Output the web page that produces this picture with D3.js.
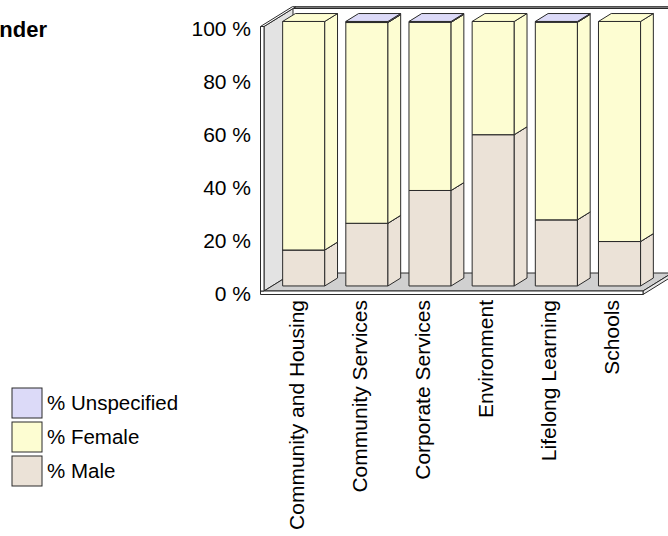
<!DOCTYPE html>
<html>
<head>
<meta charset="utf-8">
<script src="https://cdn.jsdelivr.net/npm/d3@7"></script>
<style>
  body { margin: 0; background: #fff; }
  text { font-family: "Liberation Sans", Arial, sans-serif; fill: #000; }
</style>
</head>
<body>
<svg id="chart" width="668" height="536"></svg>
<script>
// Staff by directorate, split by gender (100% stacked, 3-D columns)
const categories = ["Community and Housing", "Community Services", "Corporate Services",
                    "Environment", "Lifelong Learning", "Schools"];
const seriesKeys = ["male", "female", "unspecified"];
const seriesLabels = ["% Male", "% Female", "% Unspecified"];
const male        = [13.6, 23.7, 36.1, 57.2, 25.0, 16.8];
const female      = [86.4, 75.9, 63.6, 42.8, 74.7, 83.2];
const unspecified = [0.0, 0.4, 0.3, 0.0, 0.3, 0.0];
const yTickValues = [0, 0.2, 0.4, 0.6, 0.8, 1.0];
const yTickLabels = ["0 %", "20 %", "40 %", "60 %", "80 %", "100 %"];

const colors = { male: "#ebe2d7", female: "#fdfdd2", unspecified: "#dcdaf8" };

const rows = categories.map((c, i) => ({
  category: c, male: male[i], female: female[i], unspecified: unspecified[i]
}));
const stacked = d3.stack().keys(seriesKeys).offset(d3.stackOffsetExpand)(rows);

const svg = d3.select("#chart");

// Front plane scales; depth is an oblique offset toward the upper right
const x = d3.scaleBand().domain(categories).range([264, 643])
  .paddingInner(1 / 3).paddingOuter(1 / 6);
const y = d3.scaleLinear().domain([0, 1]).range([291, 26.5]);
const depth = { dx: 29, dy: -18 };
const P = (px, py, z) => [px + depth.dx * z, py + depth.dy * z];
const poly = pts => "M" + pts.map(p => p.join(",")).join("L") + "Z";

const edge = "#2a2a2a";
const x0 = x.range()[0], x1 = x.range()[1];
const yb = y(0), yt = y(1);
const slab = 3.5;

// Back wall top edge
svg.append("path")
  .attr("d", poly([P(x0, yt, 1), P(720, yt, 1), P(720, yt, 1.1), P(x0, yt, 1.1)]))
  .attr("fill", "#8a8a8a").attr("stroke", edge).attr("stroke-width", 1);

// Left wall inner face
svg.append("path")
  .attr("d", poly([P(x0, yb, 0), P(x0, yt, 0), P(x0, yt, 1), P(x0, yb, 1)]))
  .attr("fill", "#e3e3e3").attr("stroke", edge).attr("stroke-width", 1);
// Left wall top
svg.append("path")
  .attr("d", poly([P(x0 - slab, yt, 0), P(x0, yt, 0), P(x0, yt, 1.1), P(x0 - slab, yt, 1.1)]))
  .attr("fill", "#ffffff").attr("stroke", edge).attr("stroke-width", 1);

// Floor top, right and front faces
svg.append("path")
  .attr("d", poly([P(x0, yb, 0), P(x1, yb, 0), P(x1, yb, 1), P(x0, yb, 1)]))
  .attr("fill", "#d0d0d0").attr("stroke", edge).attr("stroke-width", 1);
svg.append("path")
  .attr("d", poly([P(x1, yb, 0), P(x1, yb, 1), P(x1, yb + slab, 1), P(x1, yb + slab, 0)]))
  .attr("fill", "#e8e8e8").attr("stroke", edge).attr("stroke-width", 1);
svg.append("path")
  .attr("d", poly([[x0 - slab, yb], [x1, yb], [x1, yb + slab], [x0 - slab, yb + slab]]))
  .attr("fill", "#ffffff").attr("stroke", edge).attr("stroke-width", 1);
// Left wall front
svg.append("path")
  .attr("d", poly([[x0 - slab, yt], [x0, yt], [x0, yb], [x0 - slab, yb]]))
  .attr("fill", "#ffffff").attr("stroke", edge).attr("stroke-width", 1);

// Columns: each segment gets front, right side and top faces
const z0 = 0.28, z1 = 0.72;
const bars = svg.append("g");
categories.forEach((cat, i) => {
  const xl = x(cat), xr = x(cat) + x.bandwidth();
  stacked.forEach(series => {
    const [v0, v1] = series[i];
    if (v1 - v0 <= 0) return;
    const a = y(v0), b = y(v1);
    const fill = colors[series.key];
    const g = bars.append("g").attr("fill", fill).attr("stroke", edge)
      .attr("stroke-width", 1).attr("stroke-linejoin", "round");
    g.append("path").attr("d", poly([P(xl, a, z0), P(xr, a, z0), P(xr, b, z0), P(xl, b, z0)]));
    g.append("path").attr("d", poly([P(xr, a, z0), P(xr, a, z1), P(xr, b, z1), P(xr, b, z0)]));
    g.append("path").attr("d", poly([P(xl, b, z0), P(xr, b, z0), P(xr, b, z1), P(xl, b, z1)]));
  });
});

// Value axis labels
svg.append("g").selectAll("text").data(yTickValues).join("text")
  .attr("x", 251).attr("y", d => y(d) + 9.5)
  .attr("text-anchor", "end").attr("font-size", 21)
  .text((d, i) => yTickLabels[i]);

// Category labels, rotated
svg.append("g").selectAll("text").data(categories).join("text")
  .attr("transform", d => `translate(${x(d) + x.bandwidth() / 2 + 8},300) rotate(-90)`)
  .attr("text-anchor", "end").attr("font-size", 21)
  .text(d => d);

// Title
svg.append("text").attr("x", 47).attr("y", 37).attr("text-anchor", "end")
  .attr("font-size", 22).attr("font-weight", "bold").text("Gender");

// Legend (top entry is the top of the stack)
const legendItems = seriesKeys.map((k, i) => ({ key: k, label: seriesLabels[i] })).reverse();
const lg = svg.append("g").selectAll("g").data(legendItems).join("g")
  .attr("transform", (d, i) => `translate(12,${388 + i * 34})`);
lg.append("rect").attr("width", 30).attr("height", 30)
  .attr("fill", d => colors[d.key]).attr("stroke", edge).attr("stroke-width", 1);
lg.append("text").attr("x", 35).attr("y", 21.5).attr("font-size", 20.5).text(d => d.label);
</script>
</body>
</html>
